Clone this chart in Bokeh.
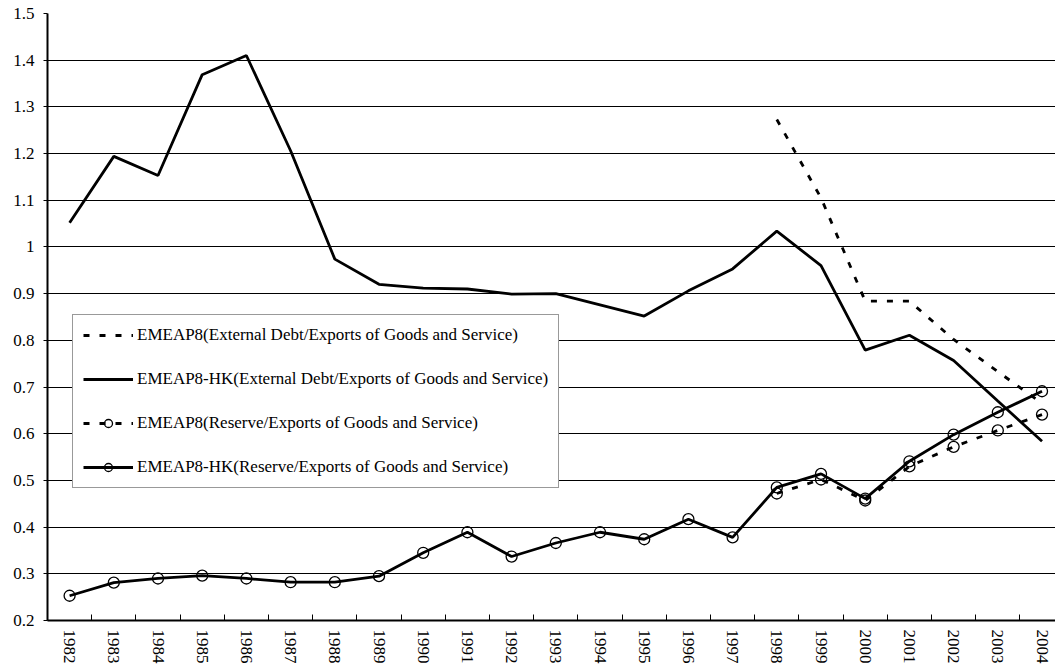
from bokeh.plotting import figure
from bokeh.models import (Range1d, FixedTicker, Legend, LegendItem, ColumnDataSource)
from bokeh.embed import file_html
from bokeh.resources import INLINE

# ---- data -------------------------------------------------------------
years = list(range(1982, 2005))
emeap_years = list(range(1998, 2005))

hk_debt = [1.052, 1.194, 1.153, 1.369, 1.410, 1.206, 0.974, 0.920, 0.912, 0.910,
           0.899, 0.900, 0.876, 0.852, 0.906, 0.953, 1.034, 0.960, 0.779, 0.811,
           0.757, 0.670, 0.584]
emeap_debt = [1.273, 1.105, 0.884, 0.884, 0.802, 0.733, 0.665]

hk_reserve = [0.253, 0.281, 0.290, 0.296, 0.290, 0.282, 0.282, 0.295, 0.345, 0.389,
              0.337, 0.366, 0.389, 0.374, 0.417, 0.378, 0.485, 0.514, 0.461, 0.541,
              0.598, 0.646, 0.691]
emeap_reserve = [0.472, 0.502, 0.457, 0.530, 0.572, 0.607, 0.641]

series_labels = [
    "EMEAP8(External Debt/Exports of Goods and Service)",
    "EMEAP8-HK(External Debt/Exports of Goods and Service)",
    "EMEAP8(Reserve/Exports of Goods and Service)",
    "EMEAP8-HK(Reserve/Exports of Goods and Service)",
]

y_ticks = [0.2, 0.3, 0.4, 0.5, 0.6, 0.7, 0.8, 0.9, 1.0, 1.1, 1.2, 1.3, 1.4, 1.5]
y_tick_labels = ["0.2", "0.3", "0.4", "0.5", "0.6", "0.7", "0.8", "0.9", "1",
                 "1.1", "1.2", "1.3", "1.4", "1.5"]
x_tick_labels = [str(y) for y in years]

# ---- figure -----------------------------------------------------------
FONT = "Liberation Serif"
FSIZE = "17px"

p = figure(width=1055, height=670, output_backend="svg", toolbar_location=None,
           x_range=Range1d(1981.5, 2004.305), y_range=Range1d(0.2, 1.5),
           min_border_left=47, min_border_right=0, min_border_top=13,
           min_border_bottom=50)
p.outline_line_color = None
p.background_fill_color = "white"
p.border_fill_color = "white"

# horizontal grid
p.ygrid.ticker = FixedTicker(ticks=y_ticks)
p.ygrid.grid_line_color = "#000000"
p.ygrid.grid_line_width = 1
p.xgrid.grid_line_color = None

# x axis: labels at year centres, tick marks at boundaries
xa = p.xaxis[0]
xa.ticker = FixedTicker(ticks=years, minor_ticks=[y - 0.5 for y in years] + [2004.5])
xa.major_label_overrides = dict(zip(years, x_tick_labels))
xa.major_label_orientation = "vertical"
xa.major_tick_in = 0
xa.major_tick_out = 0
xa.minor_tick_in = 6
xa.minor_tick_out = 0
xa.minor_tick_line_color = "#000000"
xa.axis_line_color = "#000000"
xa.axis_line_width = 2
xa.major_label_standoff = 9
xa.major_label_text_font = FONT
xa.major_label_text_font_size = FSIZE
xa.major_label_text_color = "#000000"

ya = p.yaxis[0]
ya.ticker = FixedTicker(ticks=y_ticks)
ya.major_label_overrides = dict(zip(y_ticks, y_tick_labels))
ya.major_tick_in = 0
ya.major_tick_out = 4
ya.minor_tick_line_color = None
ya.major_tick_line_color = "#000000"
ya.axis_line_color = "#000000"
ya.axis_line_width = 2
ya.major_label_standoff = 9
ya.major_label_text_font = FONT
ya.major_label_text_font_size = FSIZE
ya.major_label_text_color = "#000000"

# ---- series -----------------------------------------------------------
DASH = "6 10"
LW = 2.8

src_hk = ColumnDataSource(dict(x=years, debt=hk_debt, res=hk_reserve))
src_em = ColumnDataSource(dict(x=emeap_years, debt=emeap_debt, res=emeap_reserve))

r_em_debt = p.line("x", "debt", source=src_em, line_color="black",
                   line_width=LW, line_dash=DASH)
r_hk_debt = p.line("x", "debt", source=src_hk, line_color="black", line_width=LW)

r_em_res = p.line("x", "res", source=src_em, line_color="black",
                  line_width=LW, line_dash=DASH)
r_em_res_m = p.scatter("x", "res", source=src_em, marker="circle", size=11,
                       fill_alpha=0, line_color="black", line_width=1.3)
r_hk_res = p.line("x", "res", source=src_hk, line_color="black", line_width=LW)
r_hk_res_m = p.scatter("x", "res", source=src_hk, marker="circle", size=11,
                       fill_alpha=0, line_color="black", line_width=1.3)

legend = Legend(items=[
    LegendItem(label=series_labels[0], renderers=[r_em_debt]),
    LegendItem(label=series_labels[1], renderers=[r_hk_debt]),
    LegendItem(label=series_labels[2], renderers=[r_em_res, r_em_res_m]),
    LegendItem(label=series_labels[3], renderers=[r_hk_res, r_hk_res_m]),
], location=(25, 132))
legend.glyph_width = 50
legend.glyph_height = 20
legend.label_height = 20
legend.label_standoff = 4
legend.spacing = 24
legend.padding = 10
legend.margin = 0
legend.label_text_font = FONT
legend.label_text_font_size = FSIZE
legend.label_text_color = "#000000"
legend.border_line_color = "#333333"
legend.border_line_width = 1
legend.background_fill_color = "white"
legend.background_fill_alpha = 1
p.add_layout(legend, "center")

open("out.html", "w").write(file_html(p, INLINE))
